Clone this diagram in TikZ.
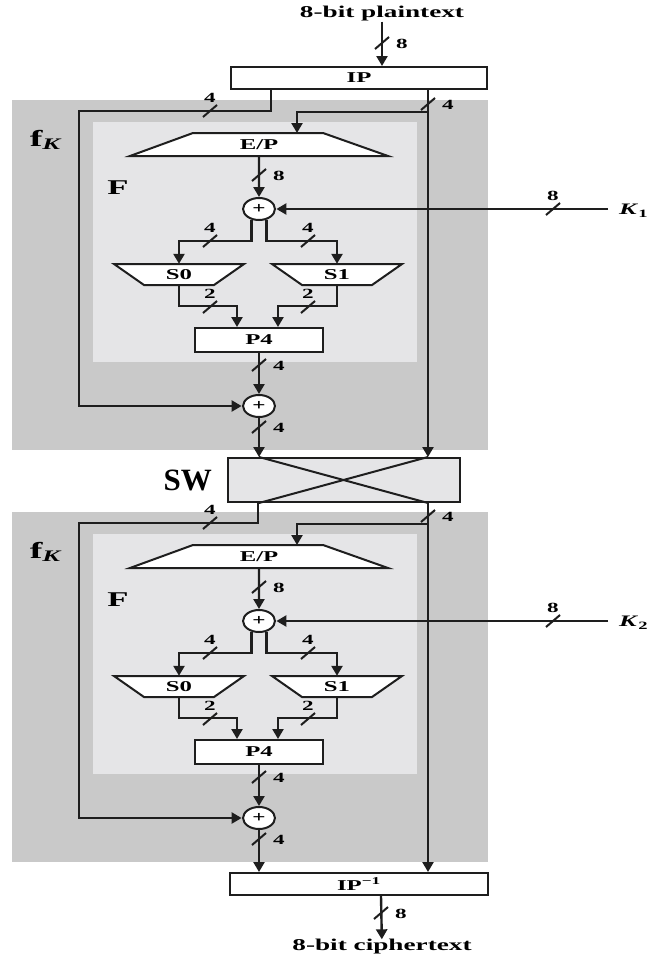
\documentclass[tikz,border=0pt]{standalone}
\usepackage{fontspec}
\setmainfont{Liberation Serif}
\newfontfamily\wide[FakeStretch=1.65]{Liberation Serif}
\usetikzlibrary{arrows.meta,positioning}

\definecolor{fkgray}{RGB}{201,201,201}
\definecolor{fgray}{RGB}{229,229,231}
\definecolor{wirec}{RGB}{30,30,30}

\tikzset{
  wire/.style={draw=wirec, line width=2.4pt, -{Triangle[width=11pt,length=10pt]}},
  bus/.style={draw=wirec, line width=2pt},
  num/.style={font=\wide\bfseries\fontsize{14}{14}\selectfont, inner sep=0pt},
  lbl/.style={font=\wide\bfseries\fontsize{15}{15}\selectfont, inner sep=0pt},
  boxnode/.style={draw=wirec, line width=2pt, fill=white, inner sep=0pt,
    minimum height=22pt, font=\wide\bfseries\fontsize{15}{15}\selectfont},
  trap/.style={draw=wirec, line width=2pt, fill=white},
  xorop/.style={circle, draw=wirec, line width=2pt, fill=white, minimum size=22pt,
    inner sep=0pt, xscale=1.45, font=\bfseries\fontsize{16}{16}\selectfont},
  busv/.pic={\draw[bus] (-7,6) -- (7,-6); \node[num] at (20,1) {#1};},
  bush/.pic={\draw[bus] (-7,6) -- (7,-6); \node[num] at (0,-13) {#1};},
}

\begin{document}
\begin{tikzpicture}[x=1pt, y=-1pt]
\useasboundingbox (0,0) rectangle (653,961);

% plaintext in, initial permutation
\node[lbl, font=\wide\bfseries\fontsize{16.5}{16.5}\selectfont] (pt) at (382,14) {8-bit plaintext};
\node[boxnode, minimum width=256pt] (ip) at (359,78) {IP};

% the two rounds f_K
\foreach \i/\dy in {1/0, 2/412} {
\begin{scope}[yshift=-\dy pt]
  \fill[fkgray] (12,100) rectangle (488,450);
  \fill[fgray] (93,122) rectangle (417,362);
  \node[font=\wide\bfseries\fontsize{23}{23}\selectfont] (fk\i) at (46,140) {f\textsubscript{\textit{K}}};
  \node[font=\wide\bfseries\fontsize{21}{21}\selectfont] (F\i) at (118,188) {F};

  % expansion/permutation
  \draw[trap] (193,133) -- (323,133) -- (388,156) -- (130,156) -- cycle;
  \node[lbl, minimum width=258pt, minimum height=23pt] (ep\i) at (259,144.5) {E/P};
  \coordinate (br\i) at (428,112);
  \coordinate (epin\i) at (297,133);
  \draw[wire] (br\i) -| (epin\i);

  % xor with subkey
  \node[xorop] (xa\i) at (259,209) {+};
  \draw[wire] (ep\i) -- (xa\i);
  \pic at (259,175) {busv=8};
  \node[lbl, font=\wide\bfseries\fontsize{16}{16}\selectfont, anchor=west] (k\i) at (619,211) {\textit{K}\textsubscript{\i}};
  \coordinate (kin\i) at (608,209);
  \draw[wire] (kin\i) -- (xa\i);
  \pic at (553,209) {bush=8};

  % S-boxes
  \draw[trap] (114,264) -- (244,264) -- (214,285) -- (144,285) -- cycle;
  \node[lbl, minimum width=130pt, minimum height=21pt] (s0\i) at (179,274.5) {S0};
  \draw[trap] (272,264) -- (402,264) -- (372,285) -- (302,285) -- cycle;
  \node[lbl, minimum width=130pt, minimum height=21pt] (s1\i) at (337,274.5) {S1};
  \draw[wire] (xa\i.-115) |- ([yshift=23pt]s0\i.north) -- (s0\i.north);
  \draw[wire] (xa\i.-65) |- ([yshift=23pt]s1\i.north) -- (s1\i.north);
  \pic at (210,241) {bush=4};
  \pic at (308,241) {bush=4};

  % P4
  \node[boxnode, minimum width=128pt, minimum height=24pt] (p4\i) at (259,340) {P4};
  \draw[wire] (s0\i.south) |- ([xshift=-22pt,yshift=21pt]p4\i.north) -- ([xshift=-22pt]p4\i.north);
  \draw[wire] (s1\i.south) |- ([xshift=19pt,yshift=21pt]p4\i.north) -- ([xshift=19pt]p4\i.north);
  \pic at (210,307) {bush=2};
  \pic at (308,307) {bush=2};

  % xor with left half
  \node[xorop] (xb\i) at (259,406) {+};
  \draw[wire] (p4\i) -- (xb\i);
  \pic at (259,365) {busv=4};
  \pic at (259,427) {busv=4};
  \pic at (428,104) {busv=4};
  \pic at (210,111) {bush=4};
  \coordinate (lc\i) at (79,111);
\end{scope}
}

% switch and inverse permutation
\node[boxnode, fill=fgray, minimum width=232pt, minimum height=44pt] (sw) at (344,480) {};
\node[font=\bfseries\fontsize{31}{31}\selectfont, inner sep=0pt, left=15pt of sw] (swtxt) {SW};
\node[boxnode, minimum width=258pt] (ipi) at (359,884) {IP\textsuperscript{−1}};
\node[lbl, font=\wide\bfseries\fontsize{16.5}{16.5}\selectfont] (ct) at (382,947) {8-bit ciphertext};

\draw[wire] (pt) -- (pt |- ip.north);
\pic at (382,43) {busv=8};
\coordinate (ipl) at ([xshift=-88pt]ip.south);
\coordinate (ipr) at ([xshift=69pt]ip.south);
\draw[wire] (ipl) |- (lc1) |- (xb1);
\draw[wire] (ipr) -- (ipr |- sw.north);
\draw[wire] (xb1) -- (xb1 |- sw.north);

\coordinate (swa) at ([xshift=-86pt]sw.south);
\coordinate (swb) at ([xshift=84pt]sw.south);
\draw[bus] (sw.north -| xb1) -- (sw.south -| swb);
\draw[bus] (sw.north -| swb) -- (sw.south -| xb1);
\draw[wire] (swa) |- (lc2) |- (xb2);
\draw[wire] (swb) -- (swb |- ipi.north);
\draw[wire] (xb2) -- (xb2 |- ipi.north);

\draw[wire] ([xshift=22pt]ipi.south) -- (ct);
\pic at (381,913) {busv=8};
\end{tikzpicture}
\end{document}
